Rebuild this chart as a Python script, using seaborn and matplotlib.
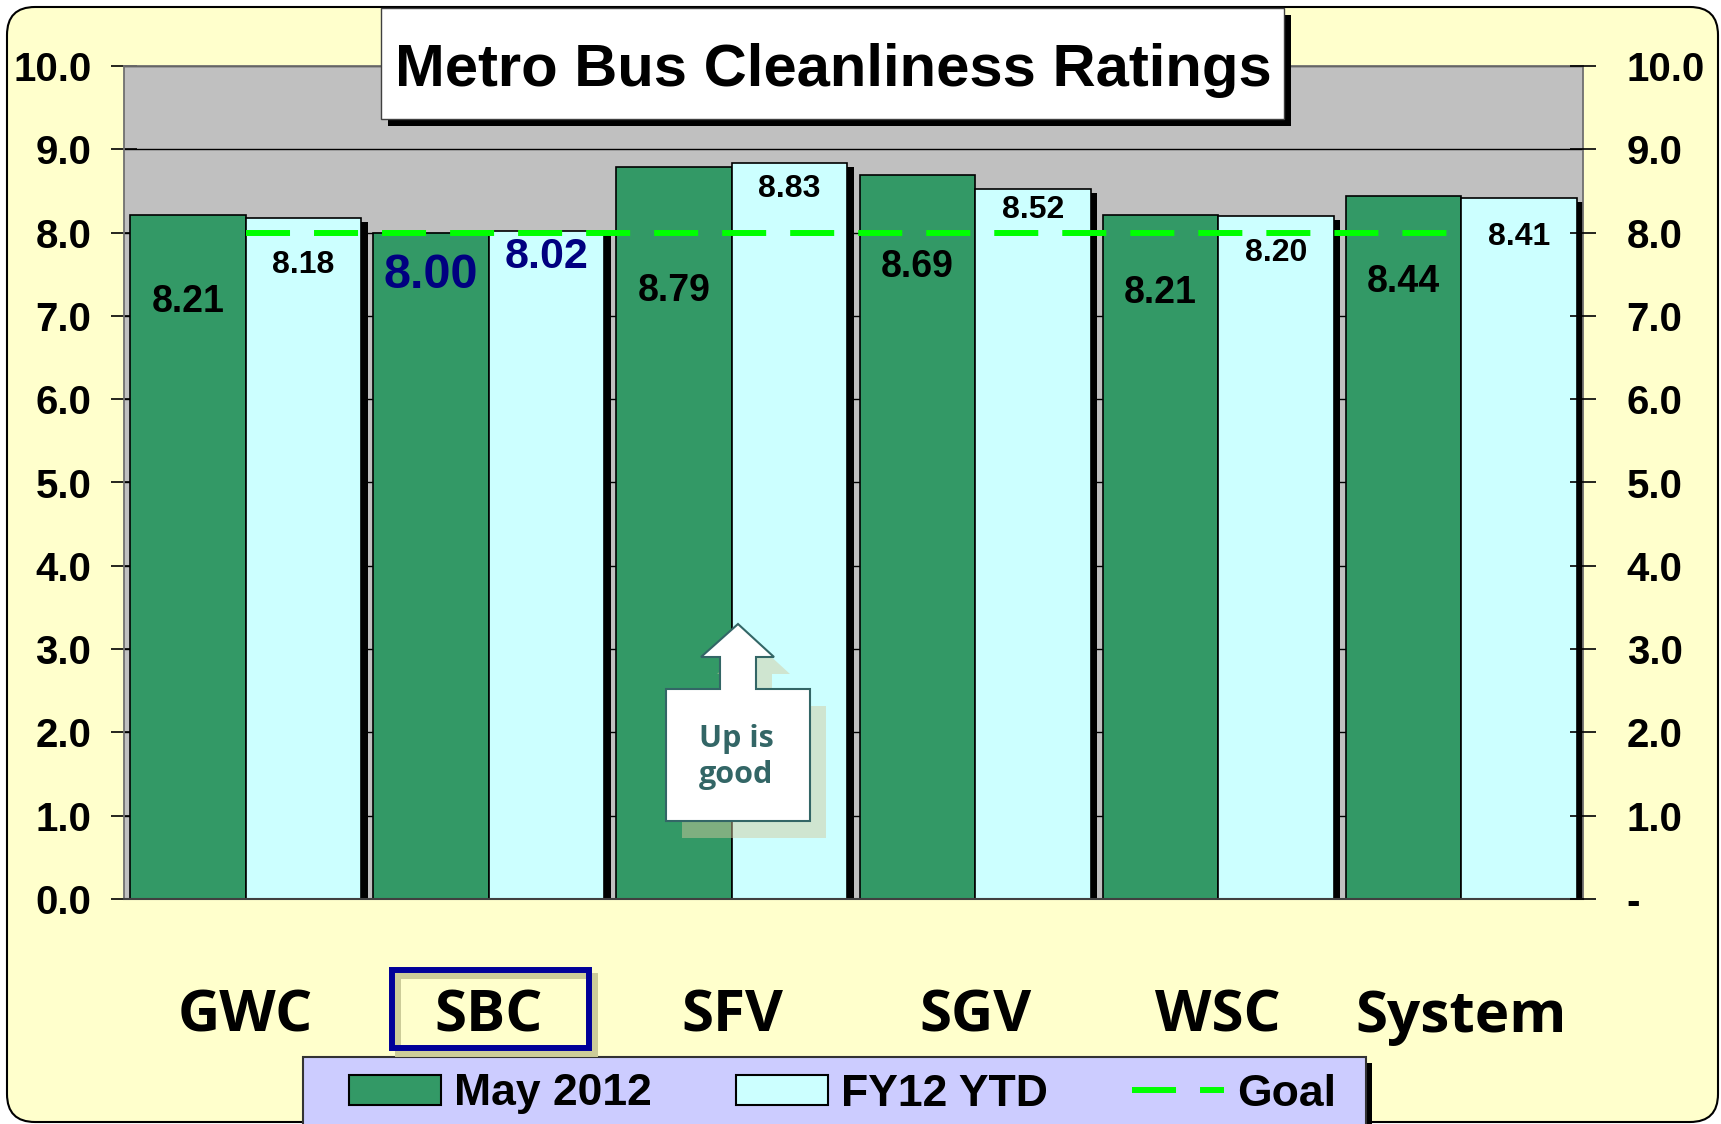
import numpy as np
import pandas as pd
import matplotlib
matplotlib.use("Agg")
import matplotlib.pyplot as plt
import matplotlib.patheffects as pe
from matplotlib.patches import Rectangle, FancyBboxPatch, Polygon, Patch
from matplotlib.lines import Line2D
from matplotlib.transforms import Affine2D
import seaborn as sns

# data
regions = ["GWC", "SBC", "SFV", "SGV", "WSC", "System"]
may_2012 = [8.21, 8.00, 8.79, 8.69, 8.21, 8.44]
fy12_ytd = [8.18, 8.02, 8.83, 8.52, 8.20, 8.41]
goal = [8.0, 8.0, 8.0, 8.0, 8.0, 8.0]
series_names = ["May 2012", "FY12 YTD", "Goal"]
left_ticks = ["0.0", "1.0", "2.0", "3.0", "4.0", "5.0", "6.0", "7.0", "8.0", "9.0", "10.0"]
right_ticks = ["-", "1.0", "2.0", "3.0", "4.0", "5.0", "6.0", "7.0", "8.0", "9.0", "10.0"]
highlight = "SBC"

# where the value labels sit (the labels were moved by hand in the original)
may_label_y = [7.17, 7.49, 7.30, 7.59, 7.27, 7.41]
ytd_label_y = [7.61, 7.71, 8.52, 8.27, 7.76, 7.95]

GREEN = "#339966"
CYAN = "#CCFFFF"
LIME = "#00FF00"
NAVY = "#000080"

plt.rcParams["font.family"] = ["Liberation Sans", "DejaVu Sans"]
plt.rcParams["font.weight"] = "bold"

W, H = 1721, 1124
fig = plt.figure(figsize=(W / 100, H / 100), dpi=100)
fig.patch.set_facecolor("white")
px = Affine2D().scale(1 / W, 1 / H) + fig.transFigure


def box(x0, y0, x1, y1, **kw):
    # rectangle given in top-down pixel coordinates
    return Rectangle((x0, H - y1), x1 - x0, y1 - y0, transform=px, **kw)


# yellow slide panel
panel = FancyBboxPatch((7, H - 1122), 1711, 1115, boxstyle="round,pad=0,rounding_size=28",
                       transform=px, fc="#FFFFCC", ec="black", lw=1.5, zorder=-10)
fig.add_artist(panel)

ax = fig.add_axes([124 / W, (H - 899) / H, 1459 / W, 833 / H])
ax.set_facecolor("#C0C0C0")

df = pd.DataFrame({
    "region": regions * 2,
    "series": [series_names[0]] * len(regions) + [series_names[1]] * len(regions),
    "rating": may_2012 + fy12_ytd,
})
sns.barplot(data=df, x="region", y="rating", hue="series", hue_order=series_names[:2],
            palette=[GREEN, CYAN], saturation=1, width=0.95, edgecolor="black",
            linewidth=1.2, legend=False, ax=ax, zorder=2)

for bar in ax.containers[1]:
    bar.set_path_effects([pe.SimplePatchShadow(offset=(4.7, -2.9), shadow_rgbFace="black", alpha=1),
                          pe.Normal()])

ax.plot(np.arange(len(regions)), goal, color=LIME, lw=4.3, dashes=(7.37, 4.02), zorder=3)

# value labels
for i, r in enumerate(regions):
    hot = r == highlight
    b0 = ax.containers[0][i]
    b1 = ax.containers[1][i]
    ax.text(b0.get_x() + b0.get_width() / 2, may_label_y[i], f"{may_2012[i]:.2f}",
            ha="center", va="center", fontsize=35 if hot else 27, fontweight="bold",
            color=NAVY if hot else "black", zorder=4)
    ax.text(b1.get_x() + b1.get_width() / 2, ytd_label_y[i], f"{fy12_ytd[i]:.2f}",
            ha="center", va="center", fontsize=31 if hot else 23, fontweight="bold",
            color=NAVY if hot else "black", zorder=4)

ax.set_xlim(-0.5, len(regions) - 0.5)
ax.set_ylim(0, 10)
ax.set_axisbelow(True)
ax.yaxis.grid(True, color="black", lw=1)
ax.xaxis.grid(False)
ax.set_xlabel("")
ax.set_ylabel("")
ax.set_yticks(range(11))
ax.set_yticklabels(left_ticks)
ax.tick_params(axis="y", direction="inout", length=19, width=1.2, pad=14, labelsize=29)
ax.set_xticks(range(len(regions)))
ax.set_xticklabels(regions, fontsize=42, fontweight="bold", family="Open Sans")
ax.tick_params(axis="x", length=0, pad=64)
for s in ["left", "right", "top"]:
    ax.spines[s].set_color("#707070")
    ax.spines[s].set_linewidth(1.3)
ax.spines["bottom"].set_color("#404040")
ax.spines["bottom"].set_linewidth(1.5)

ax2 = ax.twinx()
ax2.set_ylim(0, 10)
ax2.set_yticks(range(11))
ax2.set_yticklabels(right_ticks)
ax2.tick_params(axis="y", direction="inout", length=19, width=1.2, pad=22, labelsize=29)
for s in ax2.spines.values():
    s.set_visible(False)

# title box
fig.add_artist(box(388, 15, 1291, 126, fc="black", ec="none", zorder=6))
fig.add_artist(box(381, 8, 1284, 119, fc="white", ec="#404040", lw=1, zorder=7))
fig.text(833 / W, 1 - 70 / H, "Metro Bus Cleanliness Ratings", ha="center", va="center",
         fontsize=43, fontweight="bold", zorder=8)

# highlight box around SBC
fig.add_artist(box(398, 976, 595, 1054, fc="none", ec="#CCCC99", lw=4.3, zorder=6))
fig.add_artist(box(392, 970, 589, 1048, fc="none", ec="#000099", lw=4.3, zorder=7))

# "Up is good" callout
arrow = [(666, 821), (810, 821), (810, 689), (756, 689), (756, 657), (774, 657),
         (738, 624), (701, 657), (720, 657), (720, 689), (666, 689)]
fig.add_artist(Polygon([(x + 16, H - y - 17) for x, y in arrow], closed=True, transform=px,
                       fc="#D4C99D", alpha=0.48, ec="none", zorder=5))
fig.add_artist(Polygon([(x, H - y) for x, y in arrow], closed=True, transform=px,
                       fc="white", ec="#336666", lw=1.5, zorder=6))
fig.text(736 / W, 1 - 757 / H, "Up is\ngood", ha="center", va="center", fontsize=22,
         fontweight="bold", family="Open Sans", color="#336666", linespacing=1.27, zorder=7)

# legend
fig.add_artist(box(309, 1063, 1372, 1140, fc="black", ec="none", zorder=3))
fig.add_artist(box(303, 1057, 1366, 1140, fc="#CCCCFF", ec="#333333", lw=1.5, zorder=4))
handles = [Patch(fc=GREEN, ec="black", lw=1.5),
           Patch(fc=CYAN, ec="black", lw=1.5),
           Line2D([], [], color=LIME, lw=4.3, dashes=(7.37, 4.02))]
leg = fig.legend(handles, series_names, loc="center left", bbox_to_anchor=(349 / W, 1 - 1094 / H),
                 frameon=False, ncol=3, prop={"family": "Liberation Sans", "weight": "bold", "size": 32},
                 handlelength=2.07, handleheight=0.68, handletextpad=0.29, columnspacing=1.9,
                 borderpad=0, borderaxespad=0)
leg.set_zorder(5)

fig.savefig("out.png", dpi=100, facecolor=fig.get_facecolor())
